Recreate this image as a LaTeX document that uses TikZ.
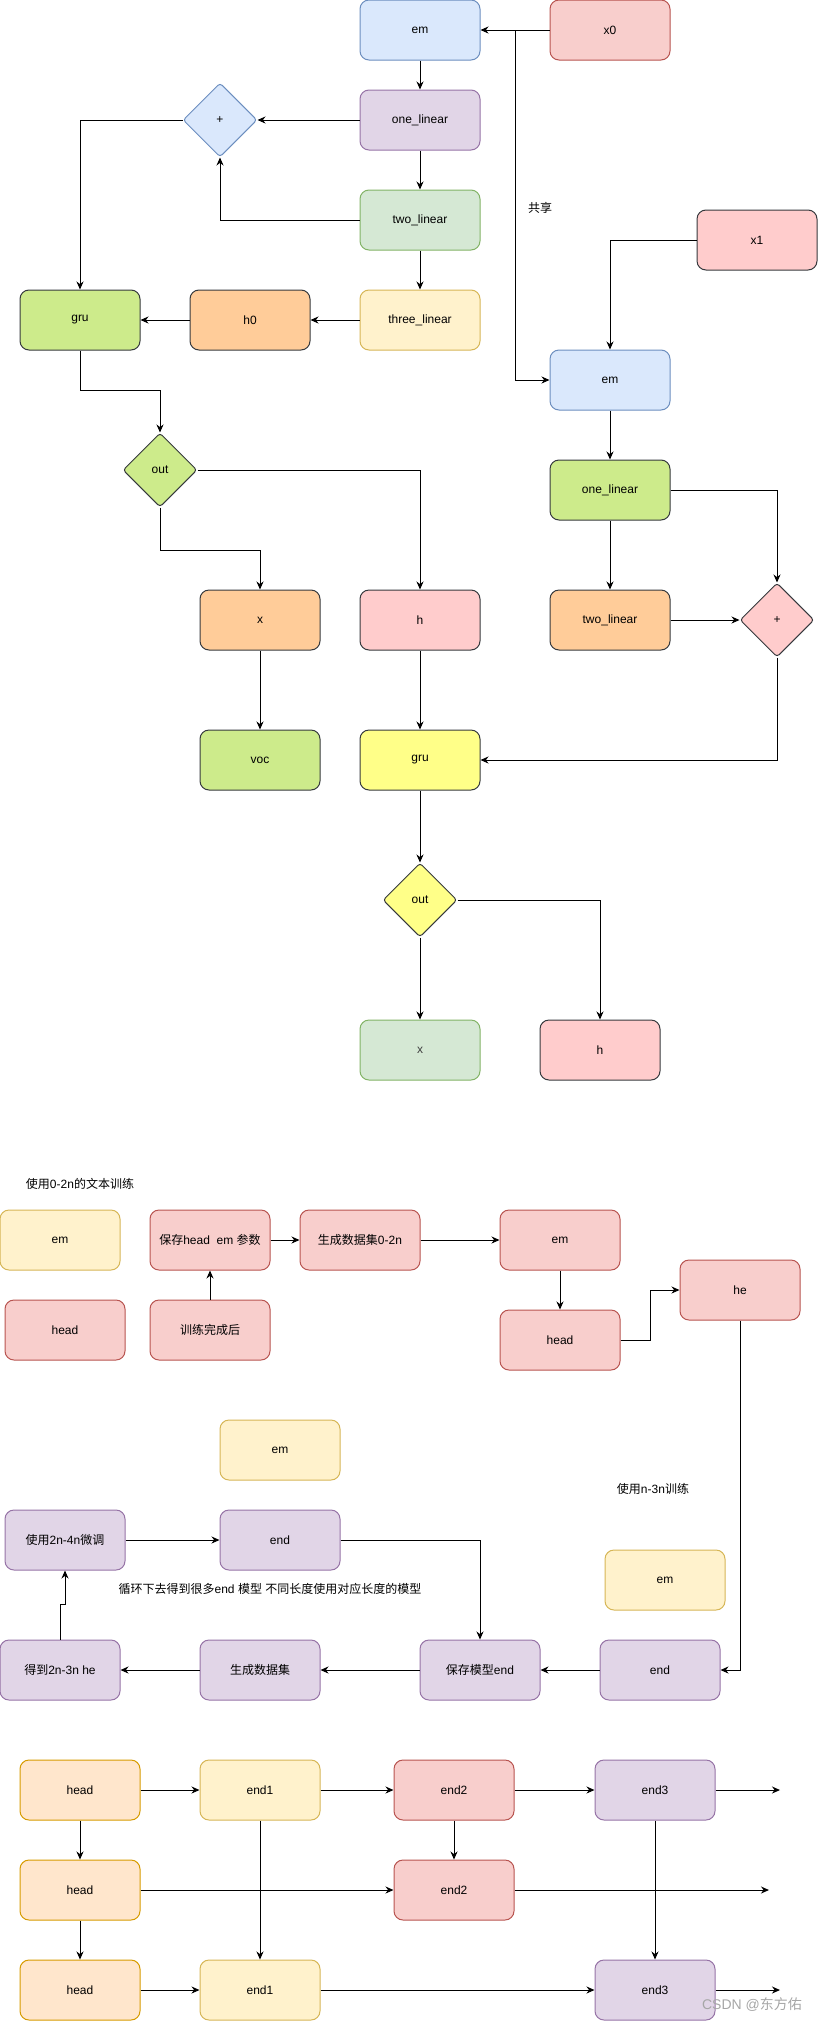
\documentclass[tikz,border=0pt]{standalone}
\usepackage{fontspec}
\setmainfont{Liberation Sans}
\newfontfamily\cjk{Noto Sans CJK SC}
\newcommand{\zh}[1]{{\cjk #1}}
\usepackage{tikz}
\usetikzlibrary{arrows.meta, shapes.geometric}
\definecolor{bluef}{HTML}{DAE8FC}
\definecolor{blued}{HTML}{6C8EBF}
\definecolor{redf}{HTML}{F8CECC}
\definecolor{redd}{HTML}{B85450}
\definecolor{purf}{HTML}{E1D5E7}
\definecolor{purd}{HTML}{9673A6}
\definecolor{grnf}{HTML}{D5E8D4}
\definecolor{grnd}{HTML}{82B366}
\definecolor{yelf}{HTML}{FFF2CC}
\definecolor{yeld}{HTML}{D6B656}
\definecolor{orgf}{HTML}{FFCC99}
\definecolor{limef}{HTML}{CDEB8B}
\definecolor{pinkf}{HTML}{FFCCCC}
\definecolor{lemonf}{HTML}{FFFF88}
\definecolor{peachf}{HTML}{FFE6CC}
\definecolor{peachd}{HTML}{D79B00}
\definecolor{darkd}{HTML}{36393D}

\begin{document}
\begin{tikzpicture}[x=1pt, y=-1pt,
    every node/.style={font=\fontsize{12}{14}\selectfont},
    box/.style={draw, rounded corners=9pt, line width=1pt, minimum width=120pt, minimum height=60pt, inner sep=2pt},
    bluebox/.style={box, fill=bluef, draw=blued},
    redbox/.style={box, fill=redf, draw=redd},
    purbox/.style={box, fill=purf, draw=purd},
    grnbox/.style={box, fill=grnf, draw=grnd},
    yelbox/.style={box, fill=yelf, draw=yeld},
    orgbox/.style={box, fill=orgf, draw=darkd},
    limebox/.style={box, fill=limef, draw=darkd},
    pinkbox/.style={box, fill=pinkf, draw=darkd},
    lemonbox/.style={box, fill=lemonf, draw=darkd},
    peachbox/.style={box, fill=peachf, draw=peachd},
    gate/.style={draw, diamond, rounded corners=3pt, line width=1pt, minimum width=74pt, minimum height=74pt, inner sep=0pt},
    arr/.style={-{Stealth[length=8pt,width=7pt]}, line width=1pt}]
    \useasboundingbox (0,0) rectangle (818,2021);
    % first step
    \node[bluebox] (em1) at (420,30) {em};
    \node[redbox] (x0) at (610,30) {x0};
    \node[purbox] (one1) at (420,120) {one\_linear};
    \node[gate, fill=bluef, draw=blued] (plus1) at (220,120) {+};
    \node[grnbox] (two1) at (420,220) {two\_linear};
    \node[yelbox] (three1) at (420,320) {three\_linear};
    \node[orgbox] (h0) at (250,320) {h0};
    \node[limebox] (gru1) at (80,320) {gru};
    \node[gate, fill=limef, draw=darkd] (out1) at (160,470) {out};
    \node[orgbox] (xa) at (260,620) {x};
    \node[pinkbox] (ha) at (420,620) {h};
    \node[limebox] (voc) at (260,760) {voc};
    \node[lemonbox] (gru2) at (420,760) {gru};
    \node[gate, fill=lemonf, draw=darkd] (out2) at (420,900) {out};
    \node[grnbox, text=darkgray] (xb) at (420,1050) {x};
    \node[pinkbox] (hb) at (600,1050) {h};
    % second step
    \node[pinkbox] (x1) at (757,240) {x1};
    \node[bluebox] (em2) at (610,380) {em};
    \node[limebox] (one2) at (610,490) {one\_linear};
    \node[orgbox] (two2) at (610,620) {two\_linear};
    \node[gate, fill=pinkf, draw=darkd] (plus2) at (777,620) {+};
    \node (share) at (540,208) {\zh{共享}};
    \coordinate (fork) at (515,30);
    \draw[arr] (x0) -- (em1);
    \draw[arr] (x0.west) -- (fork) |- (em2.west);
    \draw[arr] (em1) -- (one1);
    \draw[arr] (one1) -- (two1);
    \draw[arr] (two1) -- (three1);
    \draw[arr] (one1) -- (plus1);
    \draw[arr] (two1.west) -| (plus1.south);
    \draw[arr] (plus1.west) -| (gru1.north);
    \draw[arr] (three1) -- (h0);
    \draw[arr] (h0) -- (gru1);
    \draw[arr] (gru1.south) -- ++(0,40) -| (out1.north);
    \draw[arr] (out1.east) -| (ha.north);
    \draw[arr] (out1.south) -- ++(0,43) -| (xa.north);
    \draw[arr] (xa) -- (voc);
    \draw[arr] (ha) -- (gru2);
    \draw[arr] (x1.west) -| (em2.north);
    \draw[arr] (em2) -- (one2);
    \draw[arr] (one2) -- (two2);
    \draw[arr] (one2.east) -| (plus2.north);
    \draw[arr] (two2) -- (plus2);
    \draw[arr] (plus2.south) |- (gru2.east);
    \draw[arr] (gru2) -- (out2);
    \draw[arr] (out2) -- (xb);
    \draw[arr] (out2.east) -| (hb.north);
    % training plan
    \node (note1) at (80,1184) {\zh{使用}0-2n\zh{的文本训练}};
    \node[yelbox] (emy1) at (60,1240) {em};
    \node[redbox] (save) at (210,1240) {\zh{保存}head\ \ em \zh{参数}};
    \node[redbox] (gen) at (360,1240) {\zh{生成数据集}0-2n};
    \node[redbox] (emr) at (560,1240) {em};
    \node[redbox] (headl) at (65,1330) {head};
    \node[redbox] (train) at (210,1330) {\zh{训练完成后}};
    \node[redbox] (headr) at (560,1340) {head};
    \node[redbox] (he) at (740,1290) {he};
    \node[yelbox] (emy2) at (280,1450) {em};
    \node (note2) at (653,1489) {\zh{使用}n-3n\zh{训练}};
    \node[purbox] (tune) at (65,1540) {\zh{使用}2n-4n\zh{微调}};
    \node[purbox] (endm) at (280,1540) {end};
    \node (note3) at (270,1589) {\zh{循环下去得到很多}end \zh{模型} \zh{不同长度使用对应长度的模型}};
    \node[yelbox] (emy3) at (665,1580) {em};
    \node[purbox] (get) at (60,1670) {\zh{得到}2n-3n he};
    \node[purbox] (gen2) at (260,1670) {\zh{生成数据集}};
    \node[purbox] (savee) at (480,1670) {\zh{保存模型}end};
    \node[purbox] (endr) at (660,1670) {end};
    \draw[arr] (train) -- (save);
    \draw[arr] (save) -- (gen);
    \draw[arr] (gen) -- (emr);
    \draw[arr] (emr) -- (headr);
    \draw[arr] (headr.east) -- ++(30,0) |- (he.west);
    \draw[arr] (he.south) |- (endr.east);
    \draw[arr] (endr) -- (savee);
    \draw[arr] (savee) -- (gen2);
    \draw[arr] (gen2) -- (get);
    \draw[arr] (get.north) -- ++(0,-35) -| (tune.south);
    \draw[arr] (tune) -- (endm);
    \draw[arr] (endm.east) -| (savee.north);
    % grid of models
    \node[peachbox] (hdA) at (80,1790) {head};
    \node[peachbox] (hdB) at (80,1890) {head};
    \node[peachbox] (hdC) at (80,1990) {head};
    \node[yelbox] (e1A) at (260,1790) {end1};
    \node[yelbox] (e1C) at (260,1990) {end1};
    \node[redbox] (e2A) at (454,1790) {end2};
    \node[redbox] (e2B) at (454,1890) {end2};
    \node[purbox] (e3A) at (655,1790) {end3};
    \node[purbox] (e3C) at (655,1990) {end3};
    \coordinate (tipA) at (780,1790);
    \coordinate (tipB) at (769,1890);
    \coordinate (tipC) at (780,1990);
    \draw[arr] (hdA) -- (e1A);
    \draw[arr] (e1A) -- (e2A);
    \draw[arr] (e2A) -- (e3A);
    \draw[arr] (e3A) -- (tipA);
    \draw[arr] (hdB) -- (e2B);
    \draw[arr] (e2B) -- (tipB);
    \draw[arr] (hdC) -- (e1C);
    \draw[arr] (e1C) -- (e3C);
    \draw[arr] (e3C) -- (tipC);
    \draw[arr] (hdA) -- (hdB);
    \draw[arr] (hdB) -- (hdC);
    \draw[arr] (e1A) -- (e1C);
    \draw[arr] (e2A) -- (e2B);
    \draw[arr] (e3A) -- (e3C);
    \node[text=gray!70, font=\fontsize{14}{16}\selectfont] (mark) at (752,2005) {CSDN @\zh{东方佑}};
\end{tikzpicture}
\end{document}
